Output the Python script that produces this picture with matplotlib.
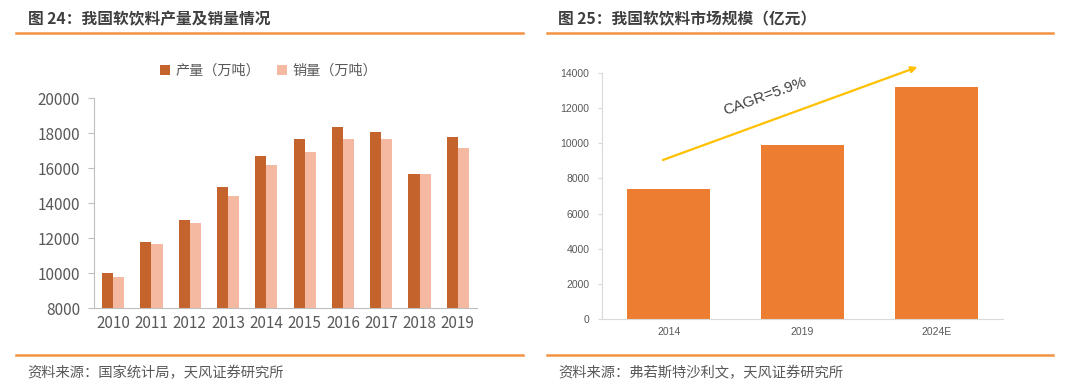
import matplotlib
matplotlib.use("Agg")
import matplotlib.pyplot as plt
from matplotlib.lines import Line2D
import numpy as np

plt.rcParams['font.family'] = ['Noto Sans CJK SC', 'DejaVu Sans']

# left chart data
years = ['2010', '2011', '2012', '2013', '2014', '2015', '2016', '2017', '2018', '2019']
production = [9990, 11760, 13010, 14910, 16680, 17660, 18330, 18040, 15670, 17760]
sales = [9785, 11630, 12840, 14380, 16150, 16920, 17680, 17630, 15630, 17150]

# right chart data
market_years = ['2014', '2019', '2024E']
market_size = [7400, 9880, 13200]

grey_txt = '#595959'
axis_col = '#bfbfbf'
orange_line = '#F39243'

fig = plt.figure(figsize=(10.8, 3.89), dpi=100)

# titles, rules and footers
fig.text(28 / 1080, 0.951, '图 24：我国软饮料产量及销量情况', fontsize=11.3,
         fontweight='bold', color='#3f3f3f', va='center', ha='left')
fig.text(558 / 1080, 0.951, '图 25：我国软饮料市场规模（亿元）', fontsize=11.3,
         fontweight='bold', color='#3f3f3f', va='center', ha='left')
for x0, x1 in [(16, 523), (547, 1053)]:
    for y in (1 - 33 / 389, 1 - 355 / 389):
        fig.add_artist(Line2D([x0 / 1080, x1 / 1080], [y, y], color=orange_line,
                              lw=1.8, transform=fig.transFigure))
fig.text(27 / 1080, 1 - 373 / 389, '资料来源：国家统计局，天风证券研究所', fontsize=10.3,
         color=grey_txt, va='center', ha='left')
fig.text(558 / 1080, 1 - 373 / 389, '资料来源：弗若斯特沙利文，天风证券研究所', fontsize=10.3,
         color=grey_txt, va='center', ha='left')

# ---- left chart ----
ax1 = fig.add_axes([94 / 1080, 1 - 308 / 389, 383 / 1080, 210 / 389])
x = np.arange(len(years))
w = 0.29
ax1.bar(x - w / 2, production, w, color='#C4632B', label='产量（万吨）')
ax1.bar(x + w / 2, sales, w, color='#F5B9A2', label='销量（万吨）')
ax1.set_xlim(-0.5, len(years) - 0.5)
ax1.set_ylim(8000, 20000)
ax1.set_yticks(range(8000, 20001, 2000))
ax1.set_xticks(x)
ax1.set_xticklabels(years)
for s in ['top', 'right']:
    ax1.spines[s].set_visible(False)
for s in ['left', 'bottom']:
    ax1.spines[s].set_color(axis_col)
ax1.tick_params(axis='y', colors=axis_col, labelcolor=grey_txt, labelsize=11,
                length=4, pad=6)
ax1.tick_params(axis='x', length=0, labelcolor=grey_txt, labelsize=11, pad=5)
ax1.legend(loc='center left', bbox_to_anchor=((160 - 94) / 383, 1 + 27 / 210), ncol=2,
           frameon=False, fontsize=10.2, handlelength=0.7, handleheight=0.7,
           handletextpad=0.4, columnspacing=1.2, labelcolor=grey_txt,
           borderaxespad=0, borderpad=0)

# ---- right chart ----
ax2 = fig.add_axes([602 / 1080, 1 - 319 / 389, 401 / 1080, 246 / 389])
x2 = np.arange(len(market_years))
ax2.bar(x2, market_size, 0.62, color='#ED7D31')
ax2.set_xlim(-0.5, len(market_years) - 0.5)
ax2.set_ylim(0, 14000)
ax2.set_yticks(range(0, 14001, 2000))
ax2.set_xticks(x2)
ax2.set_xticklabels(market_years)
for s in ['top', 'right']:
    ax2.spines[s].set_visible(False)
for s in ['left', 'bottom']:
    ax2.spines[s].set_color('#d9d9d9')
for lab in ax2.get_xticklabels() + ax2.get_yticklabels():
    lab.set_family(['Liberation Sans', 'DejaVu Sans'])
ax2.tick_params(axis='y', colors='#d9d9d9', labelcolor=grey_txt, labelsize=7.5,
                length=3, pad=6)
ax2.tick_params(axis='x', length=0, labelcolor=grey_txt, labelsize=7.5, pad=6)

ax2.annotate('', xy=(1.86, 14340), xytext=(-0.044, 9050),
             arrowprops=dict(arrowstyle='-|>', color='#FFC000', lw=1.6,
                             mutation_scale=9, shrinkA=0, shrinkB=0),
             annotation_clip=False)
ax2.text(0.72, 12650, 'CAGR=5.9%', rotation=20, fontsize=11, color='#404040',
         ha='center', va='center', family=['Liberation Sans', 'DejaVu Sans'])

fig.savefig('out.png', dpi=100)
